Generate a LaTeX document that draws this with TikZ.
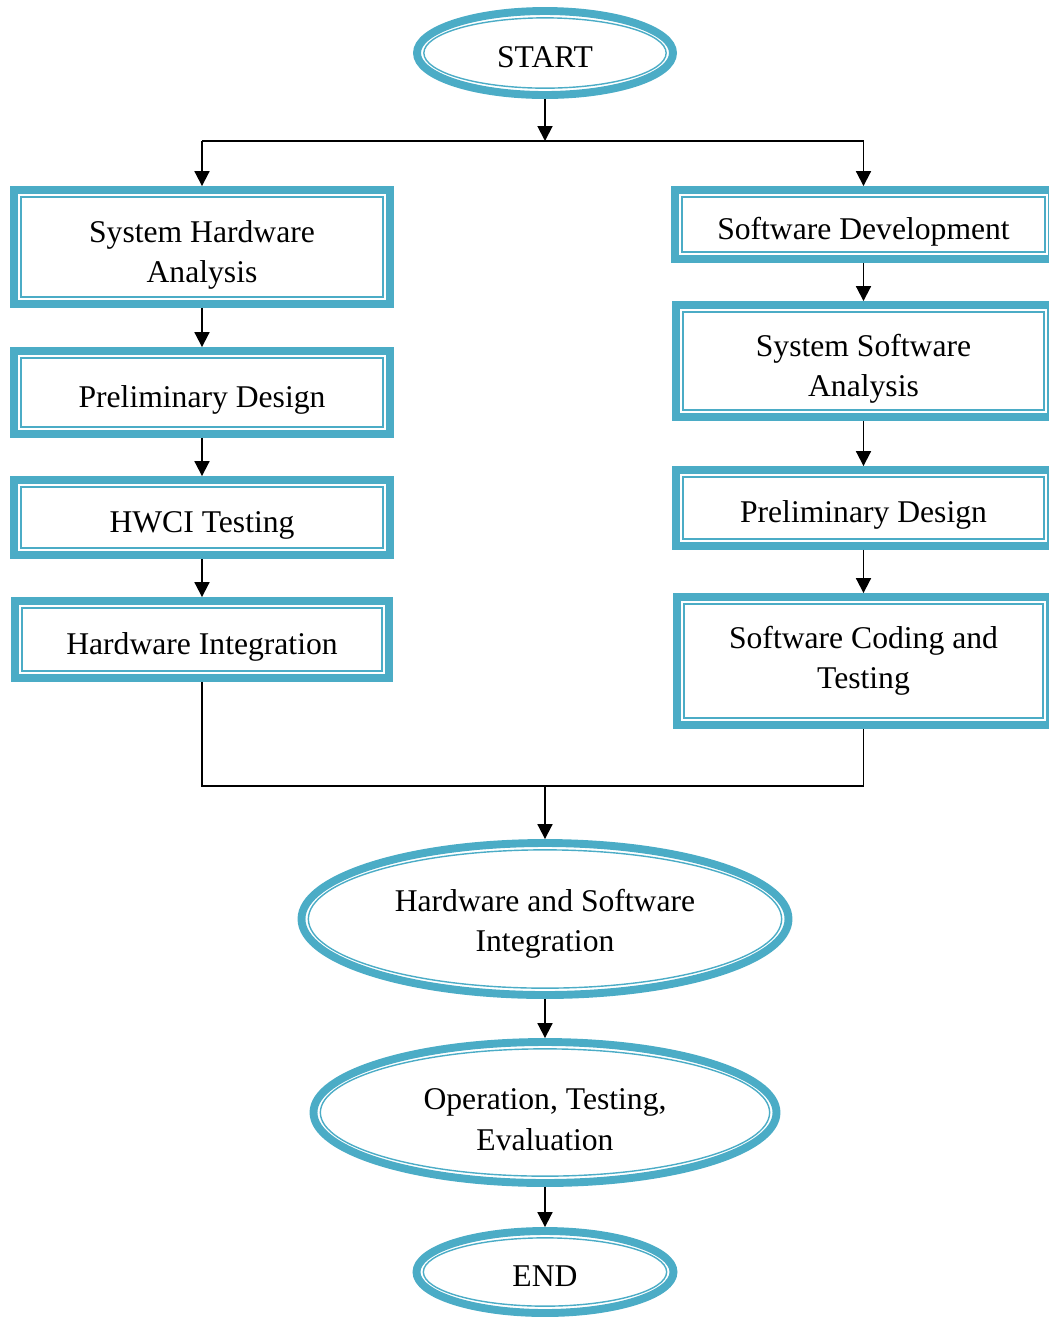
\documentclass[tikz,border=0pt]{standalone}
\usepackage{fontspec}
\setmainfont{Liberation Serif}
\usepackage{xcolor}
\usepackage{tikz}
\usetikzlibrary{positioning, arrows.meta, shapes.geometric}

\definecolor{frameblue}{HTML}{4BACC6}
\newcommand{\vpad}[1]{\rule{0pt}{#1}}

\begin{document}
\begin{tikzpicture}[
        on grid,
        >={Triangle[length=8.5pt, width=8.5pt]},
        font=\fontsize{18pt}{22.8pt}\selectfont,
        every node/.style={execute at begin node={\rule{0pt}{20.8pt}},
          execute at end node={\rule[-4pt]{0pt}{0pt}}},
        block/.style 2 args={rectangle, draw=frameblue, line width=4.5pt,
          outer sep=2.25pt, align=center, minimum width=#1, minimum height=#2,
          append after command={\pgfextra{\draw[frameblue, line width=0.8pt]
            ([shift={(6.15pt,-6.15pt)}]\tikzlastnode.north west) rectangle
            ([shift={(-6.15pt,6.15pt)}]\tikzlastnode.south east);}}},
        terminal/.style 2 args={ellipse, draw=frameblue, line width=4.5pt,
          outer sep=2.25pt, inner sep=0pt, align=center,
          minimum width=#1, minimum height=#2,
          append after command={\pgfextra{\draw[frameblue, line width=0.8pt]
            (\tikzlastnode.center) ellipse ({#1/2-3.9pt} and {#2/2-3.9pt});}}},
        flow/.style={->, line width=1.1pt},
        link/.style={line width=0.9pt},
      ]

      \useasboundingbox (0,0) rectangle (20.98,-26.34);

      \node[terminal={5.12cm}{1.68cm}] (start) at (10.9,-1.06) {START};

      % hardware side
      \node[block={7.52cm}{2.28cm}, below left=3.88cm and 6.86cm of start] (hwan)
        {\vpad{21.5pt}System Hardware\\Analysis};
      \node[block={7.52cm}{1.66cm}, below=2.91cm of hwan] (hwpd) {Preliminary Design};
      \node[block={7.52cm}{1.5cm}, below=2.5cm of hwpd] (hwci) {HWCI Testing};
      \node[block={7.48cm}{1.54cm}, below=2.44cm of hwci] (hwint) {Hardware Integration};

      % software side
      \node[block={7.54cm}{1.38cm}, below right=3.43cm and 6.37cm of start] (swdev)
        {Software Development};
      \node[block={7.5cm}{2.24cm}, below=2.73cm of swdev] (swan)
        {\vpad{21.5pt}System Software\\Analysis};
      \node[block={7.5cm}{1.52cm}, below=2.94cm of swan] (swpd) {Preliminary Design};
      \node[block={7.46cm}{2.56cm}, below=3.06cm of swpd] (swcode)
        {Software Coding and\\Testing};

      \node[terminal={9.74cm}{3.04cm}, below=17.32cm of start] (hwsw)
        {\vpad{18.2pt}Hardware and Software\\Integration};
      \node[terminal={9.26cm}{2.82cm}, below=3.87cm of hwsw] (ote)
        {\vpad{23.9pt}Operation, Testing,\\Evaluation};
      \node[terminal={5.14cm}{1.64cm}, below=3.19cm of ote] (stop) {END};

      \coordinate[below=1.76cm of start] (split);
      \coordinate[above=2.66cm of hwsw] (join);

      \draw[flow] (start) -- (split);
      \draw[link] (split -| hwan) -- (split -| swdev);
      \draw[flow] (split -| hwan) -- (hwan);
      \draw[flow] (split -| swdev) -- (swdev);

      \draw[flow] (hwan) -- (hwpd);
      \draw[flow] (hwpd) -- (hwci);
      \draw[flow] (hwci) -- (hwint);

      \draw[flow] (swdev) -- (swan);
      \draw[flow] (swan) -- (swpd);
      \draw[flow] (swpd) -- (swcode);

      \draw[link] (hwint) -- (hwint |- join) -- (swcode |- join) -- (swcode);
      \draw[flow] (join) -- (hwsw);
      \draw[flow] (hwsw) -- (ote);
      \draw[flow] (ote) -- (stop);

    \end{tikzpicture}
\end{document}
